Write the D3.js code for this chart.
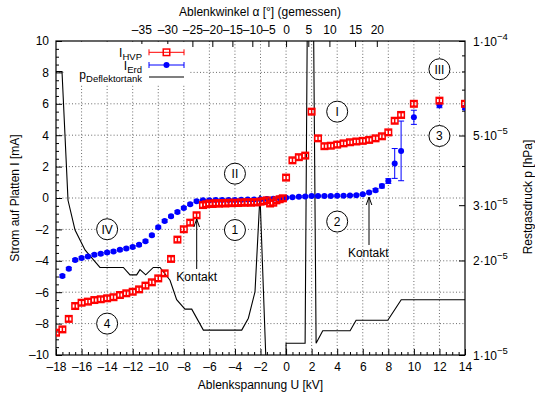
<!DOCTYPE html>
<html><head><meta charset="utf-8">
<script src="https://cdn.jsdelivr.net/npm/d3@7"></script>
<style>
body{margin:0;background:#fff}
svg{display:block}
text{font-family:"Liberation Sans",Arial,Helvetica,sans-serif;font-size:12px;fill:#000}
</style>
</head><body>
<svg id="c" width="535" height="393"></svg>
<script>
// ---- data ----
const hvpU = [-18,-17.5,-17,-16.5,-16,-15.5,-15,-14.5,-14,-13.5,-13,-12.5,-12,-11.5,-11,-10.5,-10,-9.5,-9,-8.5,-8,-7.5,-7,-6.5,
  -6.25,-6,-5.75,-5.5,-5.25,-5,-4.75,-4.5,-4.25,-4,-3.75,-3.5,-3.25,-3,-2.75,-2.5,-2.25,-2,-1.75,-1.5,-1.25,-1,-0.75,-0.5,-0.25,
  0,0.5,1,1.5,2,2.5,3,3.5,4,4.5,5,5.5,6,6.5,7,7.5,8,8.5,9,10,12,14];
const hvpI = [-8.58,-8.37,-7.7,-6.88,-6.67,-6.6,-6.5,-6.45,-6.39,-6.32,-6.18,-6.07,-5.97,-5.82,-5.58,-5.37,-5.12,-4.8,-3.88,-2.65,-1.99,-1.57,-1.1,-0.45,
  -0.4,-0.35,-0.38,-0.33,-0.36,-0.32,-0.35,-0.3,-0.33,-0.3,-0.32,-0.28,-0.3,-0.27,-0.3,-0.26,-0.28,-0.23,-0.2,-0.15,-0.35,-0.3,-0.15,-0.08,-0.02,
  1.3,2.4,2.6,2.7,5.5,3.8,3.3,3.33,3.4,3.48,3.55,3.6,3.64,3.7,3.8,3.93,4.18,4.92,5.29,6.0,6.2,6.0];
const hvpErr = hvpU.map(() => 0.15);

const erdU = [-17.5,-17,-16.5,-16,-15.5,-15,-14.5,-14,-13.5,-13,-12.5,-12,-11.5,-11,-10.5,-10,-9.5,-9,-8.5,-8,-7.5,-7,
  -6.5,-6,-5.5,-5,-4.5,-4,-3.5,-3,-2.5,-2,-1.5,-1,-0.5,0,0.5,1,1.5,2,2.5,3,3.5,4,4.5,5,5.5,6,6.5,7,7.5,8,8.5,9,10,12,14];
const erdI = [-4.97,-4.5,-3.95,-3.82,-3.72,-3.62,-3.55,-3.47,-3.4,-3.3,-3.22,-3.12,-2.98,-2.75,-2.38,-1.87,-1.46,-1.17,-0.89,-0.63,-0.4,-0.2,
  -0.15,-0.14,-0.13,-0.13,-0.12,-0.12,-0.11,-0.1,-0.09,-0.08,-0.06,-0.05,-0.02,0.02,0.05,0.08,0.1,0.12,0.12,0.13,0.13,0.14,0.14,0.16,0.18,0.24,0.35,0.5,0.76,1.08,2.2,3.0,5.14,5.9,5.75];
const erdErr = [0.08,0.08,0.08,0.08,0.08,0.08,0.08,0.08,0.08,0.08,0.08,0.08,0.08,0.08,0.08,0.08,0.08,0.08,0.08,0.08,0.08,0.08,
  0.05,0.05,0.05,0.05,0.05,0.05,0.05,0.05,0.05,0.05,0.05,0.05,0.05,0.05,0.05,0.05,0.05,0.05,0.05,0.05,0.05,0.05,0.05,0.05,0.05,0.05,0.08,0.1,0.12,0.15,0.95,1.9,0.45,0.15,0.12];

const pU = [-18,-17.53,-17.06,-16.51,-15.73,-14.56,-12.73,-12.21,-11.69,-11.43,-10.98,-10.39,-9.86,-9.08,-8.56,-7.91,-7.38,-6.47,-3.47,-2.95,-2.43,-2.04,-1.55,
  0,0,1.49,1.67,2.14,2.35,2.87,5.01,5.48,7.96,9.01,14];
const pVal = [8e-5,8e-5,3.11e-5,2.5e-5,2.16e-5,1.9e-5,1.9e-5,1.8e-5,1.8e-5,1.87e-5,1.8e-5,1.9e-5,1.9e-5,1.73e-5,1.5e-5,1.4e-5,1.4e-5,1.2e-5,1.2e-5,1.31e-5,1.59e-5,3.23e-5,0.9e-5,
  0.9e-5,1.09e-5,1.09e-5,1.3e-4,1.3e-4,1.09e-5,1.195e-5,1.195e-5,1.29e-5,1.29e-5,1.5e-5,1.5e-5];

const xTickValues = [-18,-16,-14,-12,-10,-8,-6,-4,-2,0,2,4,6,8,10,12,14];
const yTickValues = [-10,-8,-6,-4,-2,0,2,4,6,8,10];
const pTickValues = [1e-5,2e-5,3e-5,5e-5,1e-4];
const pTickMant = ["1","2","3","5","1"];
const pTickExp = ["\u22125","\u22125","\u22125","\u22125","\u22124"];
const angleLabels = [-35,-30,-25,-20,-15,-10,-5,0,5,10,15,20];
const angleAtU = [-11.32,-9.29,-7.33,-5.77,-4.2,-2.64,-1.38,0,1.74,3.39,5.4,7.1];

const circleLabels = [
  {t:"I",u:4,i:5.5},{t:"II",u:-4,i:1.55},{t:"III",u:12,i:8.2},{t:"IV",u:-14,i:-1.99},
  {t:"1",u:-4,i:-2.04},{t:"2",u:4,i:-1.5},{t:"3",u:12,i:3.95},{t:"4",u:-14,i:-8.0}
];

// ---- layout ----
const L=56,R=465,T=41,B=355;
const svg=d3.select("#c");
const x=d3.scaleLinear().domain([-18,14]).range([L,R]);
const y=d3.scaleLinear().domain([-10,10]).range([B,T]);
const yp=d3.scaleLog().domain([1e-5,1e-4]).range([B,T]);
const fmt=v=>(v<0?"\u2013"+(-v):String(v));

svg.append("defs").append("clipPath").attr("id","clip")
  .append("rect").attr("x",L).attr("y",T).attr("width",R-L).attr("height",B-T);

// grid
const grid=svg.append("g").attr("stroke","#444").attr("stroke-width",0.8).attr("stroke-dasharray","1,2.2");
grid.selectAll("line.v").data(xTickValues.filter(v=>v>-18&&v<14)).join("line")
  .attr("x1",d=>x(d)).attr("x2",d=>x(d)).attr("y1",T).attr("y2",B);
grid.selectAll("line.h").data(yTickValues.filter(v=>v>-10&&v<10)).join("line").attr("class","h")
  .attr("y1",d=>y(d)).attr("y2",d=>y(d)).attr("x1",L).attr("x2",R);

// axes
function clean(g){g.select(".domain").remove();g.selectAll(".tick line").attr("stroke","#000");}
svg.append("g").attr("transform",`translate(0,${B})`)
  .call(d3.axisBottom(x).tickValues(xTickValues).tickFormat(fmt).tickSizeInner(-6).tickSizeOuter(0).tickPadding(7))
  .call(clean).call(g=>g.selectAll("text").style("font-size","12px").style("font-family",null));
svg.append("g").attr("transform",`translate(0,${B})`)
  .call(d3.axisBottom(x).tickValues(d3.range(-17.5,14,0.5).filter(v=>v%2!==0)).tickFormat("").tickSizeInner(-3).tickSizeOuter(0))
  .call(clean);
svg.append("g").attr("transform",`translate(${L},0)`)
  .call(d3.axisLeft(y).tickValues(yTickValues).tickFormat(fmt).tickSizeInner(-6).tickSizeOuter(0).tickPadding(7))
  .call(clean).call(g=>g.selectAll("text").style("font-size","12px").style("font-family",null));
svg.append("g").attr("transform",`translate(${L},0)`)
  .call(d3.axisLeft(y).tickValues(d3.range(-9.5,10,0.5).filter(v=>v%2!==0)).tickFormat("").tickSizeInner(-3).tickSizeOuter(0))
  .call(clean);
svg.append("g").attr("transform",`translate(0,${T})`)
  .call(d3.axisTop(x).tickValues(angleAtU).tickFormat((d,i)=>fmt(angleLabels[i])).tickSizeInner(-6).tickSizeOuter(0).tickPadding(7))
  .call(clean).call(g=>g.selectAll("text").style("font-size","12px").style("font-family",null));
svg.append("g").attr("transform",`translate(${R},0)`)
  .call(d3.axisRight(yp).tickValues(pTickValues).tickFormat("").tickSizeInner(-6).tickSizeOuter(0).tickPadding(8))
  .call(clean);
svg.append("g").attr("transform",`translate(${R},0)`)
  .call(d3.axisRight(yp).tickValues([4e-5,6e-5,7e-5,8e-5,9e-5]).tickFormat("").tickSizeInner(-3).tickSizeOuter(0))
  .call(clean);
pTickValues.forEach((v,i)=>{
  const t=svg.append("text").attr("x",R+8).attr("y",yp(v)+4.5);
  t.append("tspan").text(pTickMant[i]+"\u00b710");
  t.append("tspan").attr("dy",-6).style("font-size","9.5px").text(pTickExp[i]);
});

// border
svg.append("rect").attr("x",L).attr("y",T).attr("width",R-L).attr("height",B-T)
  .attr("fill","none").attr("stroke","#000").attr("stroke-width",1.2);

// axis titles
svg.append("text").attr("x",(L+R)/2).attr("y",389).attr("text-anchor","middle").text("Ablenkspannung U [kV]");
svg.append("text").attr("x",260).attr("y",15.5).attr("text-anchor","middle").text("Ablenkwinkel \u03b1 [\u00b0] (gemessen)");
svg.append("text").attr("transform","translate(19,198) rotate(-90)").attr("text-anchor","middle").text("Strom auf Platten I [mA]");
svg.append("text").attr("transform","translate(531.5,197) rotate(-90)").attr("text-anchor","middle").text("Restgasdruck p [hPa]");

const plot=svg.append("g").attr("clip-path","url(#clip)");

// pressure line
plot.append("path").datum(pU.map((u,i)=>[u,pVal[i]]))
  .attr("d",d3.line().x(d=>x(d[0])).y(d=>yp(d[1])))
  .attr("fill","none").attr("stroke","#000").attr("stroke-width",1.1);

// annotation circles
const ann=svg.append("g");
circleLabels.forEach(c=>{
  ann.append("circle").attr("cx",x(c.u)).attr("cy",y(c.i)).attr("r",10.5).attr("fill","#fff").attr("stroke","#000").attr("stroke-width",1);
  ann.append("text").attr("x",x(c.u)).attr("y",y(c.i)+4.3).attr("text-anchor","middle").text(c.t);
});

// arrows + labels
function arrow(xx,y1,y2){
  ann.append("line").attr("x1",xx).attr("x2",xx).attr("y1",y1).attr("y2",y2).attr("stroke","#000").attr("stroke-width",1);
  ann.append("path").attr("d",`M${xx-2.8},${y2+8}L${xx},${y2}L${xx+2.8},${y2+8}`).attr("fill","none").attr("stroke","#000").attr("stroke-width",1);
}
arrow(196.7,269,219);
ann.append("text").attr("x",196.7).attr("y",280.5).attr("text-anchor","middle").text("Kontakt");
arrow(369,245,197);
ann.append("text").attr("x",368.3).attr("y",256.5).attr("text-anchor","middle").text("Kontakt");

// data: I_Erd (blue)
const blue="#0000ff", red="#ff0000";
const gE=plot.append("g").attr("stroke",blue).attr("stroke-width",1);
erdU.forEach((u,i)=>{
  const cx=x(u), y0=y(erdI[i]-erdErr[i]), y1=y(erdI[i]+erdErr[i]);
  gE.append("line").attr("x1",cx).attr("x2",cx).attr("y1",y0).attr("y2",y1);
  gE.append("line").attr("x1",cx-3).attr("x2",cx+3).attr("y1",y0).attr("y2",y0);
  gE.append("line").attr("x1",cx-3).attr("x2",cx+3).attr("y1",y1).attr("y2",y1);
  gE.append("circle").attr("cx",cx).attr("cy",y(erdI[i])).attr("r",3).attr("fill",blue).attr("stroke","none");
});
// data: I_HVP (red)
const gH=plot.append("g").attr("stroke",red).attr("stroke-width",1.5).attr("fill","none");
hvpU.forEach((u,i)=>{
  const cx=x(u), cy=y(hvpI[i]), y0=y(hvpI[i]-hvpErr[i]), y1=y(hvpI[i]+hvpErr[i]);
  gH.append("rect").attr("x",cx-3.25).attr("y",cy-3.25).attr("width",6.5).attr("height",6.5);
  gH.append("line").attr("x1",cx).attr("x2",cx).attr("y1",y0).attr("y2",y1);
  gH.append("line").attr("x1",cx-3).attr("x2",cx+3).attr("y1",y0).attr("y2",y0);
  gH.append("line").attr("x1",cx-3).attr("x2",cx+3).attr("y1",y1).attr("y2",y1);
});

// legend
const lg=svg.append("g");
lg.append("rect").attr("x",64).attr("y",44).attr("width",126).attr("height",40).attr("fill","#fff");
function legText(yb,main,sub){
  const t=lg.append("text").attr("x",142).attr("y",yb).attr("text-anchor","end");
  t.append("tspan").text(main);
  t.append("tspan").attr("dy",3).style("font-size","9.5px").text(sub);
}
legText(56.5,"I","HVP");
legText(69.5,"I","Erd");
legText(78.5,"p","Deflektortank");
function legErr(yy,col){
  lg.append("line").attr("x1",149).attr("x2",184).attr("y1",yy).attr("y2",yy).attr("stroke",col);
  lg.append("line").attr("x1",149).attr("x2",149).attr("y1",yy-3).attr("y2",yy+3).attr("stroke",col);
  lg.append("line").attr("x1",184).attr("x2",184).attr("y1",yy-3).attr("y2",yy+3).attr("stroke",col);
}
legErr(52.3,red);
lg.append("rect").attr("x",163.25).attr("y",49.05).attr("width",6.5).attr("height",6.5).attr("fill","none").attr("stroke",red).attr("stroke-width",1.5);
legErr(65,blue);
lg.append("circle").attr("cx",166.5).attr("cy",65).attr("r",3).attr("fill",blue);
lg.append("line").attr("x1",149).attr("x2",184).attr("y1",77).attr("y2",77).attr("stroke","#000").attr("stroke-width",1.1);
</script>
</body></html>
